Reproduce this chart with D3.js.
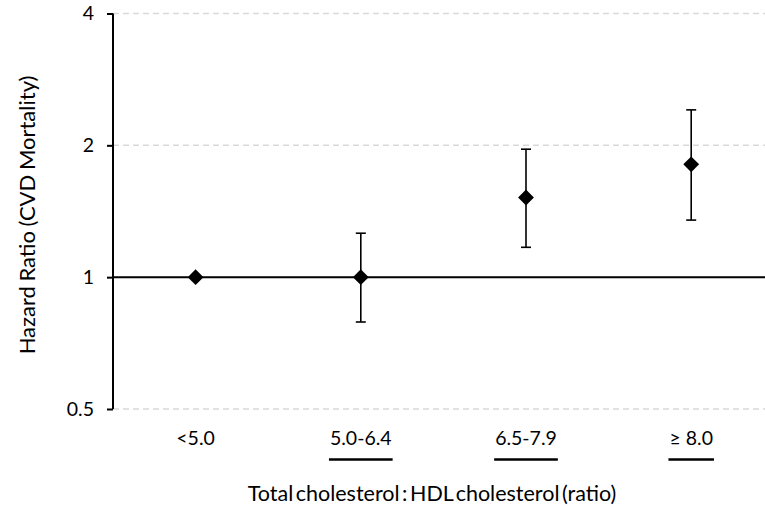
<!DOCTYPE html>
<html><head><meta charset="utf-8">
<script src="https://cdn.jsdelivr.net/npm/d3@7"></script>
<style>body{margin:0;background:#fff}svg{display:block}text{font-family:Lato,"Open Sans",sans-serif;fill:#000}</style>
</head><body><svg id="c" width="765" height="510"></svg>
<script>
const categories = ["<5.0", "5.0-6.4", "6.5-7.9", "\u2265 8.0"];
const hazardRatio = [1.0, 1.0, 1.52, 1.81];
const ciLower = [null, 0.79, 1.17, 1.35];
const ciUpper = [null, 1.26, 1.96, 2.41];
const underlined = [false, true, true, true];
const yTicks = [0.5, 1, 2, 4];
const yTickLabels = ["0.5", "1", "2", "4"];
const yTitle = "Hazard Ratio (CVD Mortality)";
const xTitle = "Total cholesterol : HDL cholesterol (ratio)";

const svg = d3.select("#c");
const axisX = 113;
const y = d3.scaleLog().base(2).domain([0.5, 4]).range([409, 13.5]);
const x = d3.scaleBand().domain(categories).range([axisX, axisX + 4 * 165.2]);

// gridlines
svg.append("g").selectAll("line").data(yTicks.filter(t => t !== 1)).join("line")
  .attr("x1", axisX).attr("x2", 765).attr("y1", d => y(d)).attr("y2", d => y(d))
  .attr("stroke", "#d9d9d9").attr("stroke-width", 1.5).attr("stroke-dasharray", "6,4");

// reference line at 1
svg.append("line").attr("x1", axisX).attr("x2", 765).attr("y1", y(1)).attr("y2", y(1))
  .attr("stroke", "#000").attr("stroke-width", 2);

// y axis
const yAxis = d3.axisLeft(y).tickValues(yTicks).tickFormat((d, i) => yTickLabels[i]).tickSize(6).tickPadding(13);
const ga = svg.append("g").attr("transform", `translate(${axisX},0)`).call(yAxis);
ga.select(".domain").attr("stroke", "#000").attr("stroke-width", 2).attr("d", `M0,${y(4)}V${y(0.5)}`);
ga.selectAll(".tick line").attr("stroke", "#000").attr("stroke-width", 2);
ga.selectAll(".tick text").style("font-size", "19.5px").attr("font-family", "Lato");

// error bars
const idx = d3.range(categories.length).filter(i => ciLower[i] != null);
const eb = svg.append("g").attr("stroke", "#000").attr("stroke-width", 1.6);
idx.forEach(i => {
  const cx = x(categories[i]) + x.bandwidth() / 2;
  eb.append("line").attr("x1", cx).attr("x2", cx).attr("y1", y(ciLower[i])).attr("y2", y(ciUpper[i]));
  [ciLower[i], ciUpper[i]].forEach(v => eb.append("line").attr("x1", cx - 5).attr("x2", cx + 5).attr("y1", y(v)).attr("y2", y(v)));
});

// diamonds
const sym = d3.symbol().type(d3.symbolSquare).size(125);
svg.append("g").selectAll("path").data(hazardRatio).join("path")
  .attr("d", sym)
  .attr("transform", (d, i) => `translate(${x(categories[i]) + x.bandwidth() / 2},${y(d)}) rotate(45)`)
  .attr("fill", "#000");

// x labels
const xl = svg.append("g");
categories.forEach((c, i) => {
  const cx = x(c) + x.bandwidth() / 2;
  const t = xl.append("text").attr("x", cx).attr("y", 445).attr("text-anchor", "middle").style("font-size", "19.5px").text(c);
  if (underlined[i]) {
    const w = t.node().getComputedTextLength();
    xl.append("line").attr("x1", cx - w / 2 - 1).attr("x2", cx + w / 2 + 1).attr("y1", 459.5).attr("y2", 459.5)
      .attr("stroke", "#000").attr("stroke-width", 2.5);
  }
});

// titles
svg.append("text").attr("x", 432).attr("y", 501).attr("text-anchor", "middle").style("font-size", "21.5px").style("word-spacing", "-3px").text(xTitle);
svg.append("text").attr("transform", "translate(35,215) rotate(-90)").attr("text-anchor", "middle").style("font-size", "22px").style("word-spacing", "-1px").text(yTitle);
</script></body></html>
